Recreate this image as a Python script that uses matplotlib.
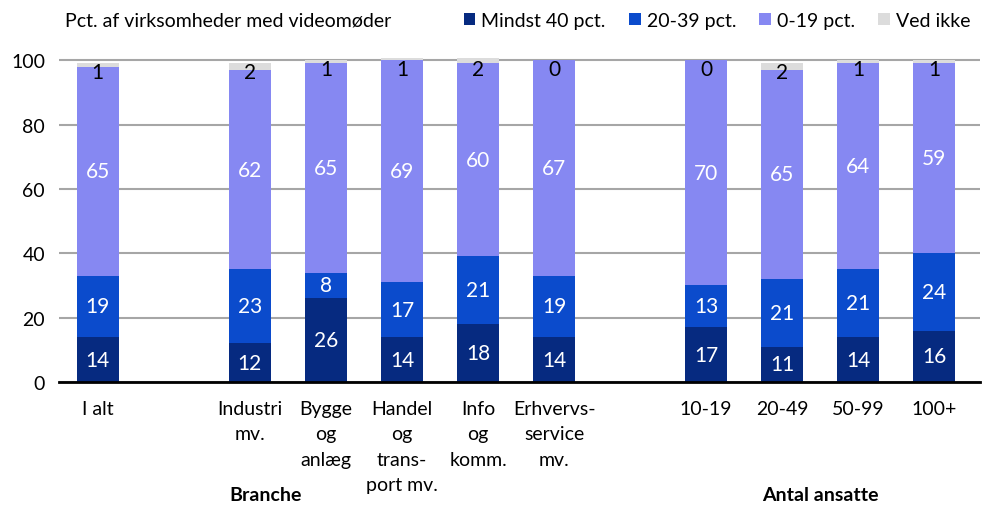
import numpy as np
import matplotlib.pyplot as plt
from matplotlib.patches import Patch

plt.rcParams['font.family'] = ['Lato', 'DejaVu Sans']

categories = ['I alt', 'Industri\nmv.', 'Bygge\nog\nanlæg', 'Handel\nog\ntrans-\nport mv.',
              'Info\nog\nkomm.', 'Erhvervs-\nservice\nmv.', '10-19', '20-49', '50-99', '100+']
series_names = ['Mindst 40 pct.', '20-39 pct.', '0-19 pct.', 'Ved ikke']
mindst40 = [14, 12, 26, 14, 18, 14, 17, 11, 14, 16]
pct20_39 = [19, 23, 8, 17, 21, 19, 13, 21, 21, 24]
pct0_19 = [65, 62, 65, 69, 60, 67, 70, 65, 64, 59]
ved_ikke = [1, 2, 1, 1, 2, 0, 0, 2, 1, 1]
groups = ['Branche', 'Antal ansatte']

colors = ['#062a80', '#0b4bcc', '#8688f2', '#dcdcdc']
label_colors = ['white', 'white', 'white', 'black']

# positions with gaps between groups
xpos = np.array([0, 2, 3, 4, 5, 6, 8, 9, 10, 11])
width = 0.55
fs = 14

fig = plt.figure(figsize=(9.82, 5.06), dpi=100)
ax = fig.add_axes([0.060, 0.243, 0.938, 0.640])

bottom = np.zeros(len(xpos))
data = [mindst40, pct20_39, pct0_19, ved_ikke]
for vals, col, lcol in zip(data, colors, label_colors):
    vals = np.array(vals, dtype=float)
    ax.bar(xpos, vals, width, bottom=bottom, color=col, edgecolor='none', zorder=3)
    for x, b, v in zip(xpos, bottom, vals):
        if lcol == 'black':
            ax.text(x, min(b + v, 100) + 0.3, f'{int(v)}', ha='center', va='top',
                    color=lcol, fontsize=15, zorder=4)
        else:
            ax.text(x, b + v / 2, f'{int(v)}', ha='center', va='center', color=lcol,
                    fontsize=15, zorder=4)
    bottom += vals

ax.set_xlim(-0.51, 11.6)
ax.set_ylim(0, 100.6)
ax.set_yticks([0, 20, 40, 60, 80, 100])
ax.yaxis.grid(True, color='#a6a6a6', linewidth=1.5, zorder=0)
ax.set_xticks(xpos)
ax.set_xticklabels(categories, fontsize=fs, linespacing=1.6, va='top')
ax.tick_params(axis='both', length=0, labelsize=fs)
ax.tick_params(axis='x', pad=13)
ax.tick_params(axis='y', pad=10)
for s in ['top', 'right', 'left']:
    ax.spines[s].set_visible(False)
ax.spines['bottom'].set_linewidth(2)
ax.spines['bottom'].set_color('black')
ax.spines['bottom'].set_zorder(5)

fig.text(0.270, 0.020, groups[0], ha='center', va='center', fontsize=fs, fontweight='bold')
fig.text(0.835, 0.020, groups[1], ha='center', va='center', fontsize=fs, fontweight='bold')

fig.text(0.066, 0.958, 'Pct. af virksomheder med videomøder', ha='left', va='center', fontsize=fs)
handles = [Patch(facecolor=c, edgecolor='none') for c in colors]
fig.legend(handles, series_names, loc='center right', bbox_to_anchor=(1.0, 0.958),
           ncol=4, frameon=False, fontsize=fs, handlelength=0.6, handleheight=0.6,
           handletextpad=0.3, columnspacing=1.2, borderaxespad=0.2)

fig.savefig('out.png', dpi=100)
